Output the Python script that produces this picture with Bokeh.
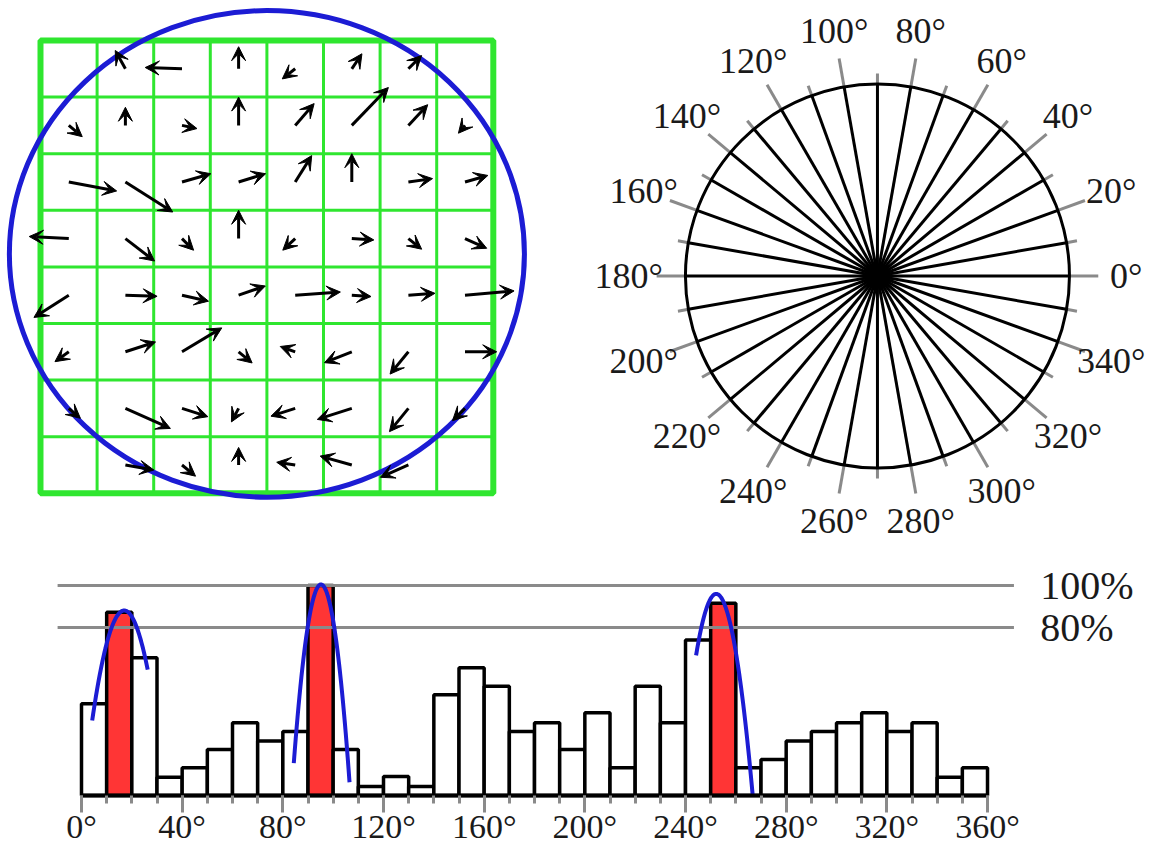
import numpy as np
from bokeh.plotting import figure
from bokeh.models import ColumnDataSource, Arrow, VeeHead, Range1d, FixedTicker, CustomJSTickFormatter
from bokeh.layouts import column, row
from bokeh.embed import file_html
from bokeh.resources import INLINE
from bokeh.core.properties import value

FONT = "Liberation Serif"
GREEN = "#2fe62f"
BLUE = "#1c1cd4"
RED = "#ff3535"
GRAY = "#8a8a8a"
INK = "#1a1a1a"

# ---------------- data ----------------
nan = float("nan")
# gradient orientation (deg) per cell, rows from top to bottom
arrow_angle = [
    [nan, 119, 178, 90, 218, 56, 45, nan],
    [-40, 90, -12, 90, 49, 46, 47, 230],
    [-10.6, -32.4, 16, 17, 58, 90, 8, 16],
    [177, -37.6, -45, 90, 223, -3.5, -38.6, -24],
    [212.5, -2, -12.7, 19, 4, -4, 4, 5],
    [215.5, 18, 31, -39.5, 160.5, 201.7, 230.6, 0],
    [-40.5, -24, -17.7, 242, 197.8, 197.7, 230.8, 224.5],
    [nan, -10, -39.6, 90, 171.6, 164.3, 203.7, nan],
]
# gradient magnitude per cell (in cell widths)
arrow_mag = [
    [0, 0.37, 0.65, 0.39, 0.29, 0.32, 0.33, 0],
    [0.31, 0.32, 0.27, 0.50, 0.51, 0.93, 0.50, 0.18],
    [0.86, 0.99, 0.53, 0.50, 0.55, 0.50, 0.43, 0.42],
    [0.70, 0.65, 0.29, 0.50, 0.30, 0.39, 0.30, 0.42],
    [0.73, 0.56, 0.48, 0.50, 0.80, 0.34, 0.47, 0.87],
    [0.30, 0.56, 0.82, 0.31, 0.28, 0.52, 0.51, 0.56],
    [0.27, 0.87, 0.48, 0.27, 0.45, 0.64, 0.53, 0.31],
    [0, 0.51, 0.31, 0.31, 0.33, 0.58, 0.54, 0],
]

polar_spokes = list(range(0, 360, 10))
polar_labels = list(range(0, 360, 20))

hist_bins = list(range(0, 360, 10))
hist_values = [43.7, 87.3, 65.6, 8.7, 13.2, 21.9, 34.6, 25.9, 30.5, 100.0,
               21.9, 4.3, 9.0, 4.3, 48.0, 60.8, 52.0, 30.5, 34.6, 21.9,
               39.4, 13.2, 52.0, 34.6, 74.1, 91.6, 13.2, 17.1, 25.9, 30.5,
               34.6, 39.4, 30.5, 34.6, 8.7, 13.2]
peak_bins = [10, 90, 250]
peak_fit_x = [[4.25, 17.1, 26.3], [84.35, 95.2, 106.5], [244.2, 252.3, 266.7]]
peak_fit_y = [[35.7, 88.1, 59.9], [15.4, 100.5, 6.3], [66.7, 96.0, 0.0]]
ref_levels = [100, 80]
ref_labels = ["100%", "80%"]
hist_major_ticks = list(range(0, 361, 40))
hist_minor_ticks = list(range(0, 361, 10))


def bare(fig):
    fig.grid.visible = False
    fig.outline_line_color = None
    fig.min_border = 0
    return fig


TOP_H = 555

# ---------------- panel 1: gradient grid ----------------
p1 = bare(figure(width=568, height=TOP_H, x_range=Range1d(-0.7067, 9.3286), y_range=Range1d(-1.099, 8.7067),
                 x_axis_location=None, y_axis_location=None, toolbar_location=None, output_backend="svg"))
inner = list(range(1, 8))
p1.segment(x0=inner, y0=[0] * 7, x1=inner, y1=[8] * 7, line_color=GREEN, line_width=3)
p1.segment(x0=[0] * 7, y0=inner, x1=[8] * 7, y1=inner, line_color=GREEN, line_width=3)
p1.quad(left=[0], right=[8], bottom=[0], top=[8], fill_color=None, line_color=GREEN, line_width=6)
p1.ellipse(x=[4.0], y=[4.23], width=[9.1], height=[8.6], fill_color=None, line_color=BLUE, line_width=5)

xs0, ys0, xs1, ys1 = [], [], [], []
for r in range(8):
    for c in range(8):
        a = arrow_angle[r][c]
        m = arrow_mag[r][c]
        if m <= 0 or np.isnan(a):
            continue
        x0, y0 = c + 0.5, 7.5 - r
        xs0.append(x0); ys0.append(y0)
        xs1.append(x0 + m * np.cos(np.radians(a)))
        ys1.append(y0 + m * np.sin(np.radians(a)))
asrc = ColumnDataSource(dict(x0=xs0, y0=ys0, x1=xs1, y1=ys1))
p1.add_layout(Arrow(x_start="x0", y_start="y0", x_end="x1", y_end="y1", source=asrc,
                    line_color="black", line_width=3,
                    end=VeeHead(size=14, fill_color="black", line_color="black", line_width=1)))

# ---------------- panel 2: polar orientation bins ----------------
p2 = bare(figure(width=582, height=TOP_H, x_range=Range1d(-1.609, 1.422), y_range=Range1d(-1.456, 1.435),
                 x_axis_location=None, y_axis_location=None, toolbar_location=None, output_backend="svg"))
th = np.radians(polar_spokes)
tick_len = np.array([1.15 if a % 20 == 0 else 1.055 for a in polar_spokes])
p2.segment(x0=np.cos(th), y0=np.sin(th), x1=tick_len * np.cos(th), y1=tick_len * np.sin(th),
           line_color=GRAY, line_width=3)
p2.segment(x0=[0] * len(th), y0=[0] * len(th), x1=np.cos(th), y1=np.sin(th), line_color="black", line_width=3)
p2.circle(x=[0], y=[0], radius=[1.0], fill_color=None, line_color="black", line_width=3)
tl = np.radians(polar_labels)
p2.text(x=1.295 * np.cos(tl), y=1.295 * np.sin(tl), text=[f"{a}°" for a in polar_labels],
        text_font=value(FONT), text_font_size="36px", text_align="center", text_baseline="middle",
        text_color=INK)

# ---------------- panel 3: histogram ----------------
p3 = bare(figure(width=1150, height=846 - TOP_H, x_range=Range1d(-32.185, 424.76), y_range=Range1d(-24.29, 114.29),
                 y_axis_location=None, toolbar_location=None, output_backend="svg"))
colors = [RED if b in peak_bins else "white" for b in hist_bins]
p3.quad(left=hist_bins, right=[b + 10 for b in hist_bins], bottom=0, top=hist_values,
        fill_color=colors, line_color="black", line_width=3.5)
p3.segment(x0=[-9.5] * 2, y0=ref_levels, x1=[370.5] * 2, y1=ref_levels, line_color=GRAY, line_width=3)
p3.text(x=[381] * 2, y=ref_levels, text=ref_labels, text_font=value(FONT), text_font_size="40px",
        text_align="left", text_baseline="middle", text_color=INK)
for px, py in zip(peak_fit_x, peak_fit_y):
    coef = np.polyfit(px, py, 2)
    xx = np.linspace(px[0], px[-1], 60)
    p3.line(xx, np.polyval(coef, xx), line_color=BLUE, line_width=4)

ax = p3.xaxis[0]
ax.fixed_location = 0
ax.bounds = (0, 360)
ax.ticker = FixedTicker(ticks=hist_major_ticks, minor_ticks=hist_minor_ticks)
ax.formatter = CustomJSTickFormatter(code="return tick + '°'")
ax.axis_line_color = "black"
ax.axis_line_width = 4
ax.major_tick_in = 0
ax.minor_tick_in = 0
ax.major_tick_out = 17
ax.minor_tick_out = 8
ax.major_tick_line_color = GRAY
ax.minor_tick_line_color = GRAY
ax.major_tick_line_width = 3
ax.minor_tick_line_width = 3
ax.major_label_text_font = FONT
ax.major_label_text_font_size = "34px"
ax.major_label_text_color = INK
ax.major_label_standoff = -4

layout = column(row(p1, p2), p3)
open("out.html", "w").write(file_html(layout, INLINE))
